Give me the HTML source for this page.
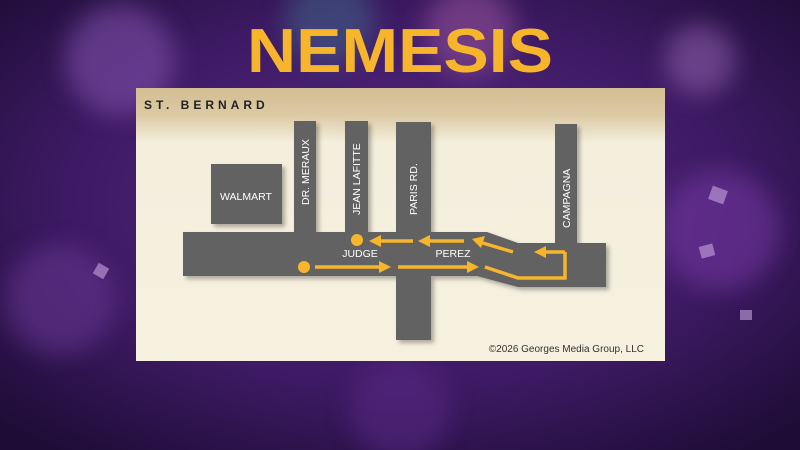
<!DOCTYPE html>
<html><head><meta charset="utf-8"><style>
html,body{margin:0;padding:0;width:800px;height:450px;overflow:hidden;background:#3a1a5a}
svg{display:block;position:absolute;left:0;top:0}
</style></head><body>
<svg width="800" height="450" viewBox="0 0 800 450" xmlns="http://www.w3.org/2000/svg" overflow="hidden">
<defs>
<radialGradient id="bg" cx="50%" cy="45%" r="70%">
<stop offset="0" stop-color="#5a2a86"/><stop offset="0.6" stop-color="#3d1a63"/><stop offset="1" stop-color="#1e0c36"/>
</radialGradient>
<linearGradient id="hdr" x1="0" y1="0" x2="0" y2="1">
<stop offset="0" stop-color="#d3bd92"/><stop offset="0.1" stop-color="#dccaa5"/><stop offset="0.2" stop-color="#f4eedd"/><stop offset="1" stop-color="#f6f0df"/>
</linearGradient>
<filter id="sh" x="-10%" y="-10%" width="130%" height="130%"><feDropShadow dx="3" dy="3" stdDeviation="2" flood-color="#000" flood-opacity="0.3"/></filter>
<filter id="blur" x="0" y="0" width="800" height="450" filterUnits="userSpaceOnUse"><feGaussianBlur stdDeviation="12"/></filter>
</defs>
<rect width="800" height="450" fill="url(#bg)"/>
<g filter="url(#blur)" opacity="0.5">
<circle cx="120" cy="60" r="55" fill="#8a5ab8"/>
<circle cx="330" cy="20" r="45" fill="#3f6a8a"/>
<circle cx="470" cy="30" r="45" fill="#a05aa0"/>
<circle cx="720" cy="230" r="60" fill="#7a3aa8"/>
<circle cx="60" cy="300" r="55" fill="#6a3a98"/>
<circle cx="700" cy="60" r="35" fill="#9a6ab8"/>
<circle cx="400" cy="410" r="50" fill="#5a2a88"/>
</g>
<g fill="#c9a6e0" opacity="0.6">
<rect x="710" y="188" width="16" height="14" transform="rotate(20 718 195)"/>
<rect x="700" y="245" width="14" height="12" transform="rotate(-15 707 251)"/>
<rect x="95" y="265" width="12" height="12" transform="rotate(30 101 271)"/>
<rect x="740" y="310" width="12" height="10"/>
</g>
<text x="400" y="72" text-anchor="middle" font-family="Liberation Sans, sans-serif" font-weight="bold" font-size="62" fill="#f7b52c" textLength="306" lengthAdjust="spacingAndGlyphs">NEMESIS</text>
<rect x="136" y="88" width="529" height="273" fill="url(#hdr)"/>
<text x="144" y="109" font-family="Liberation Sans, sans-serif" font-weight="bold" font-size="12" fill="#222" letter-spacing="4">ST. BERNARD</text>
<g fill="#626264" filter="url(#sh)">
<rect x="211" y="164" width="71" height="60"/>
<rect x="294" y="121" width="22" height="115"/>
<rect x="345" y="121" width="23" height="115"/>
<rect x="396" y="122" width="35" height="218"/>
<rect x="555" y="124" width="22" height="122"/>
<path d="M183 232 H487 L518 243 H606 V287 H518 L477 276 H183 Z"/>
</g>
<g font-family="Liberation Sans, sans-serif" font-size="10.5" fill="#fff">
<text x="246" y="200" text-anchor="middle">WALMART</text>
<text transform="translate(309 205) rotate(-90)">DR. MERAUX</text>
<text transform="translate(360 215) rotate(-90)">JEAN  LAFITTE</text>
<text transform="translate(417 215) rotate(-90)">PARIS RD.</text>
<text transform="translate(570 228) rotate(-90)">CAMPAGNA</text>
<text x="360" y="257" text-anchor="middle">JUDGE</text>
<text x="453" y="257" text-anchor="middle">PEREZ</text>
</g>
<g fill="#f7b52c">
<circle cx="357" cy="240" r="6"/>
<circle cx="304" cy="267" r="6"/>
</g>
<g stroke="#f7b52c" stroke-width="3.5" fill="none">
<line x1="413" y1="241" x2="378" y2="241"/>
<line x1="464" y1="241" x2="424" y2="241"/>
<polyline points="513,252 476,241"/>
<polyline points="565,252 541,252"/>
<polyline points="565,252 565,278 518,278 485,267"/>
<line x1="315" y1="267" x2="384" y2="267"/>
<line x1="398" y1="267" x2="472" y2="267"/>
</g>
<g fill="#f7b52c">
<polygon points="369,241 381,235 381,247"/>
<polygon points="418,241 430,235 430,247"/>
<polygon points="472,239 485,236 481,248"/>
<polygon points="534,252 546,246 546,258"/>
<polygon points="391,267 379,261 379,273"/>
<polygon points="479,267 467,261 467,273"/>
</g>
<text x="644" y="352" text-anchor="end" font-family="Liberation Sans, sans-serif" font-size="10" fill="#333">©2026 Georges Media Group, LLC</text>
</svg>
</body></html>
